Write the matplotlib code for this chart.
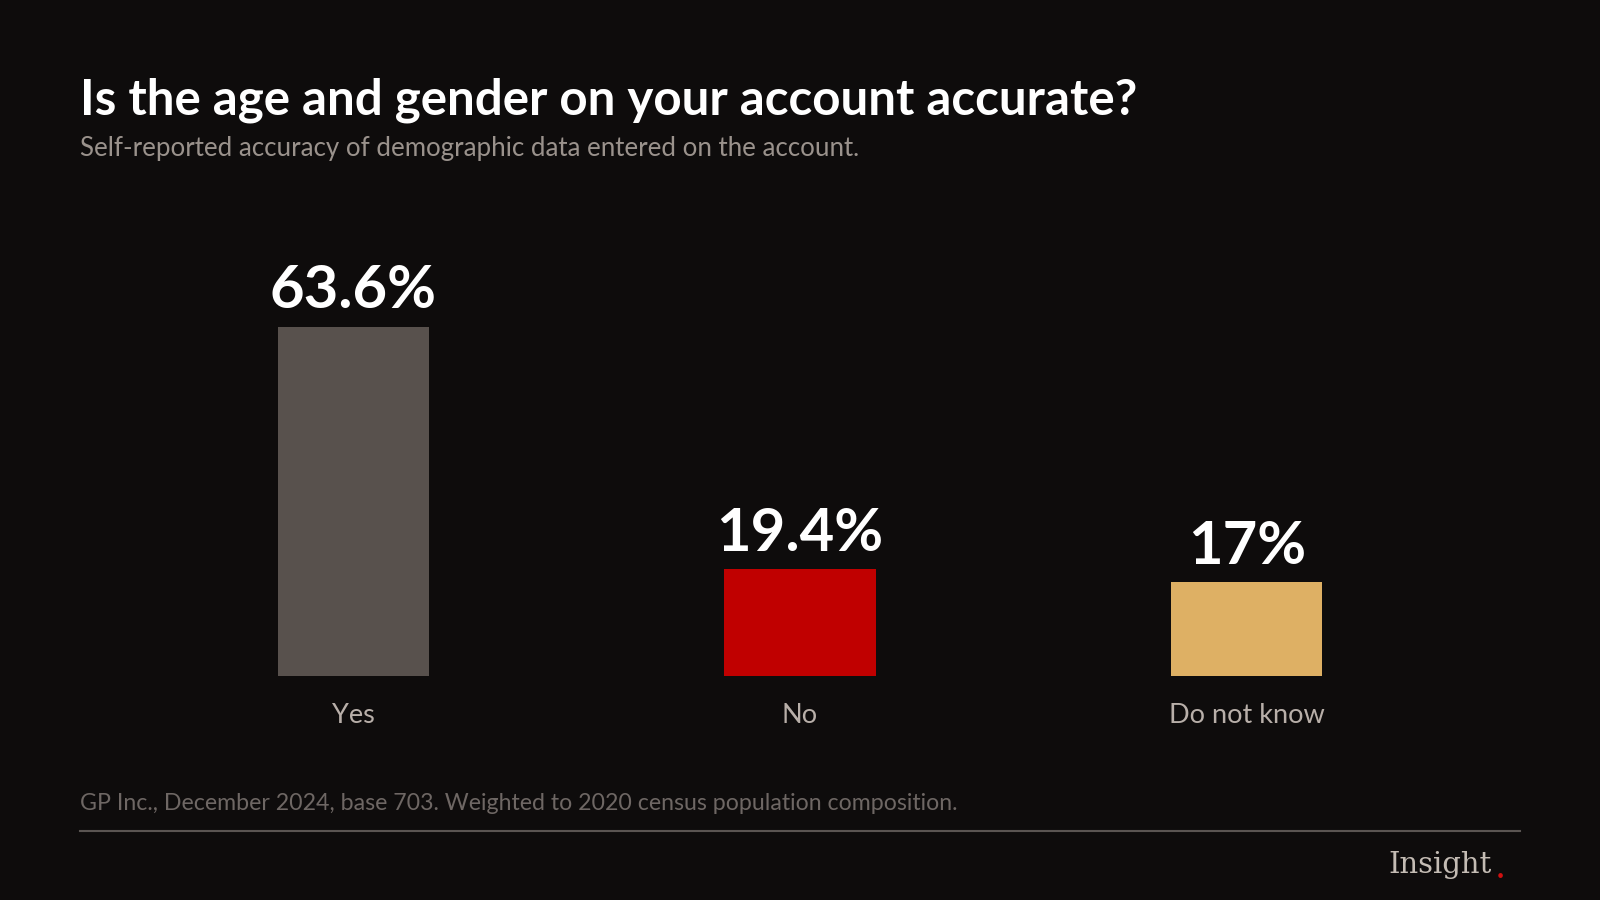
import matplotlib.pyplot as plt
import numpy as np

plt.rcParams['font.family'] = ['Lato', 'DejaVu Sans']

# Data
categories = ['Yes', 'No', 'Do not know']
values = [63.6, 19.4, 17.0]
value_labels = ['63.6%', '19.4%', '17%']
colors = ['#58514d', '#c00000', '#deb064']

bg = '#0e0c0c'
W, H = 1568, 882

fig = plt.figure(figsize=(16, 9), dpi=100, facecolor=bg)

# bar axes: bottom at y=662px, top at y=320px (reference px)
ax = fig.add_axes([0, 1 - 662 / H, 1, (662 - 320) / H])
ax.set_facecolor('none')
x = np.arange(len(categories))
ax.bar(x, values, width=148 / 438, color=colors)
ax.set_xlim(-346 / 438, (W - 346) / 438)
ax.set_ylim(0, max(values))
for xi, v, lab in zip(x, values, value_labels):
    ax.annotate(lab, (xi, v), xytext=(0, 6), textcoords='offset points',
                ha='center', va='bottom', color='white', fontsize=43,
                fontweight='bold', annotation_clip=False)
ax.set_xticks(x)
ax.set_xticklabels(categories, color='#b8afa9', fontsize=19.5)
ax.tick_params(axis='x', length=0, pad=20)
ax.set_yticks([])
for s in ax.spines.values():
    s.set_visible(False)

# titles
fig.text(78 / W, 1 - 98 / H, 'Is the age and gender on your account accurate?',
         color='white', fontsize=35.5, fontweight='bold', va='center')
fig.text(78 / W, 1 - 146 / H, 'Self-reported accuracy of demographic data entered on the account.',
         color='#9a928c', fontsize=18.6, va='center')

# footer
fig.text(78 / W, 1 - 787 / H,
         'GP Inc., December 2024, base 703. Weighted to 2020 census population composition.',
         color='#6e6764', fontsize=16.7, va='center')
fig.add_artist(plt.Line2D([78 / W, 1490 / W], [1 - 814 / H] * 2, color='#5a5552', lw=1.5))
fig.text(1462 / W, 1 - 848 / H, 'Insight', color='#c4bcb4', fontsize=21,
         family='DejaVu Serif', ha='right', va='center')
fig.text(1470 / W, 1 - 852 / H, '.', color='#d01010', fontsize=22, fontweight='bold',
         ha='center', va='center')

fig.savefig('out.png', facecolor=bg)
